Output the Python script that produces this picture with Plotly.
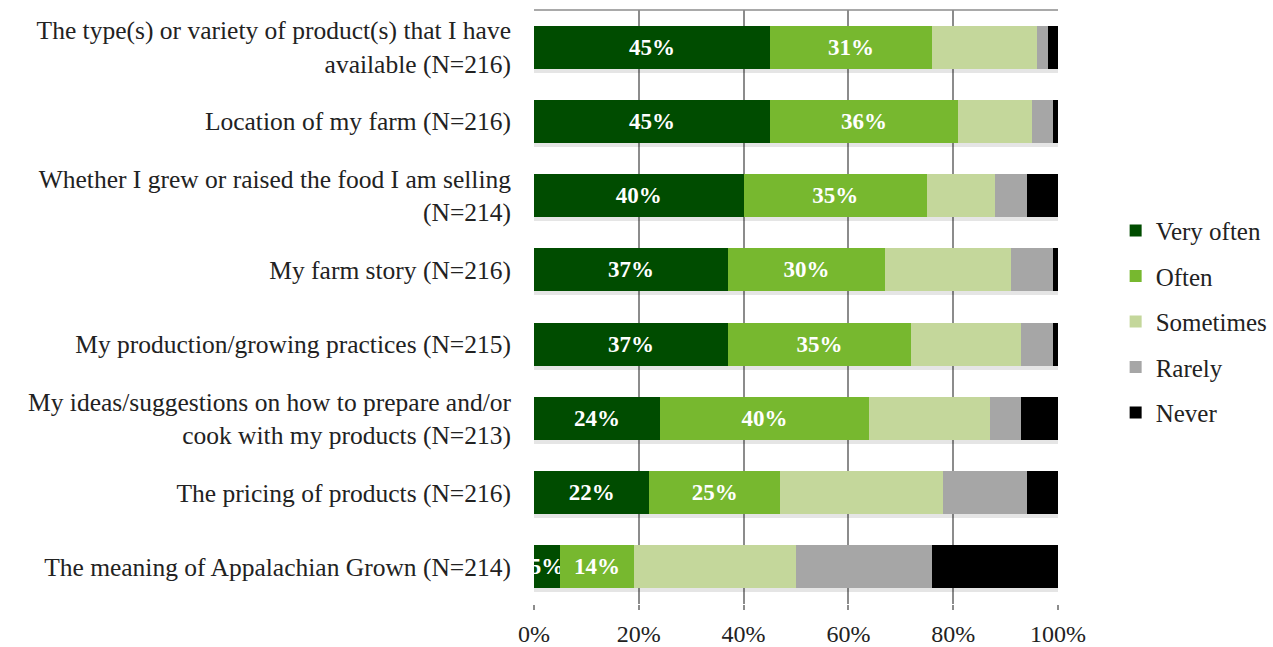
import plotly.graph_objects as go

# Survey items (top to bottom)
items = [
    "The type(s) or variety of product(s) that I have<br>available (N=216)",
    "Location of my farm (N=216)",
    "Whether I grew or raised the food I am selling<br>(N=214)",
    "My farm story (N=216)",
    "My production/growing practices (N=215)",
    "My ideas/suggestions on how to prepare and/or<br>cook with my products (N=213)",
    "The pricing of products (N=216)",
    "The meaning of Appalachian Grown (N=214)",
]

# Percent of respondents per frequency
very_often = [45, 45, 40, 37, 37, 24, 22, 5]
often = [31, 36, 35, 30, 35, 40, 25, 14]
sometimes = [20, 14, 13, 24, 21, 23, 31, 31]
rarely = [2, 4, 6, 8, 6, 6, 16, 26]
never = [2, 1, 6, 1, 1, 7, 6, 24]

series_names = ["Very often", "Often", "Sometimes", "Rarely", "Never"]
series_values = [very_often, often, sometimes, rarely, never]
colors = ["#004C00", "#77B82F", "#C4D79B", "#A6A6A6", "#000000"]
labelled = {"Very often", "Often"}

FONT = "Liberation Serif"
TEXT = "#222222"
GRID = "#8C8C8C"
BAR_W = 0.58
n = len(items)
# shadow axis is nudged a few pixels downward
shift = 0.035

totals = [sum(col) for col in zip(*series_values)]

fig = go.Figure()

# soft drop shadow under each stacked bar
fig.add_trace(go.Bar(
    y=items, x=totals, orientation="h", width=BAR_W + 0.04,
    marker=dict(color="rgba(0,0,0,0.10)", line=dict(width=0)),
    showlegend=False, hoverinfo="skip", yaxis="y",
))

for name, vals, col in zip(series_names, series_values, colors):
    show_text = name in labelled
    fig.add_trace(go.Bar(
        y=items,
        x=vals,
        name=name,
        orientation="h",
        width=BAR_W,
        yaxis="y2",
        marker=dict(color=col, line=dict(width=0)),
        text=[f"{v}%" for v in vals] if show_text else None,
        textposition="inside" if show_text else "none",
        textangle=0,
        insidetextanchor="middle",
        textfont=dict(family=FONT, size=23, color="white", weight="bold"),
        legendgroup=name,
        hoverinfo="x+name",
    ))

fig.update_layout(
    barmode="stack",
    width=1273,
    height=647,
    margin=dict(l=534, r=215, t=10, b=43, autoexpand=False),
    plot_bgcolor="white",
    paper_bgcolor="white",
    font=dict(family=FONT, size=25, color=TEXT),
    uniformtext=dict(minsize=23, mode="show"),
    legend=dict(
        x=1.11, xanchor="left",
        y=0.475, yanchor="middle",
        traceorder="grouped",
        tracegroupgap=10,
        font=dict(family=FONT, size=25, color=TEXT),
        bgcolor="rgba(0,0,0,0)",
    ),
    showlegend=True,
    shapes=[dict(type="line", xref="paper", yref="paper", x0=0, x1=1, y0=1, y1=1,
                 line=dict(color=GRID, width=1.5))],
    xaxis=dict(
        range=[0, 100],
        tickvals=[0, 20, 40, 60, 80, 100],
        ticktext=["0%", "20%", "40%", "60%", "80%", "100%"],
        showgrid=True,
        gridcolor=GRID,
        gridwidth=1.5,
        zeroline=False,
        showline=False,
        ticks="outside",
        ticklen=5,
        tickwidth=1.5,
        tickcolor=GRID,
        ticklabelstandoff=3,
        automargin=False,
        tickfont=dict(family=FONT, size=24, color=TEXT),
    ),
    yaxis=dict(
        categoryorder="array",
        categoryarray=items,
        range=[n - 0.5 - shift, -0.5 - shift],
        showgrid=False,
        zeroline=False,
        showline=False,
        showticklabels=False,
        ticks="",
        automargin=False,
    ),
    yaxis2=dict(
        overlaying="y",
        side="left",
        categoryorder="array",
        categoryarray=items,
        range=[n - 0.5, -0.5],
        showgrid=False,
        zeroline=False,
        showline=False,
        ticks="",
        ticklabelstandoff=22,
        automargin=False,
        tickfont=dict(family=FONT, size=25.5, color=TEXT),
    ),
)

fig.write_html("out.html")
